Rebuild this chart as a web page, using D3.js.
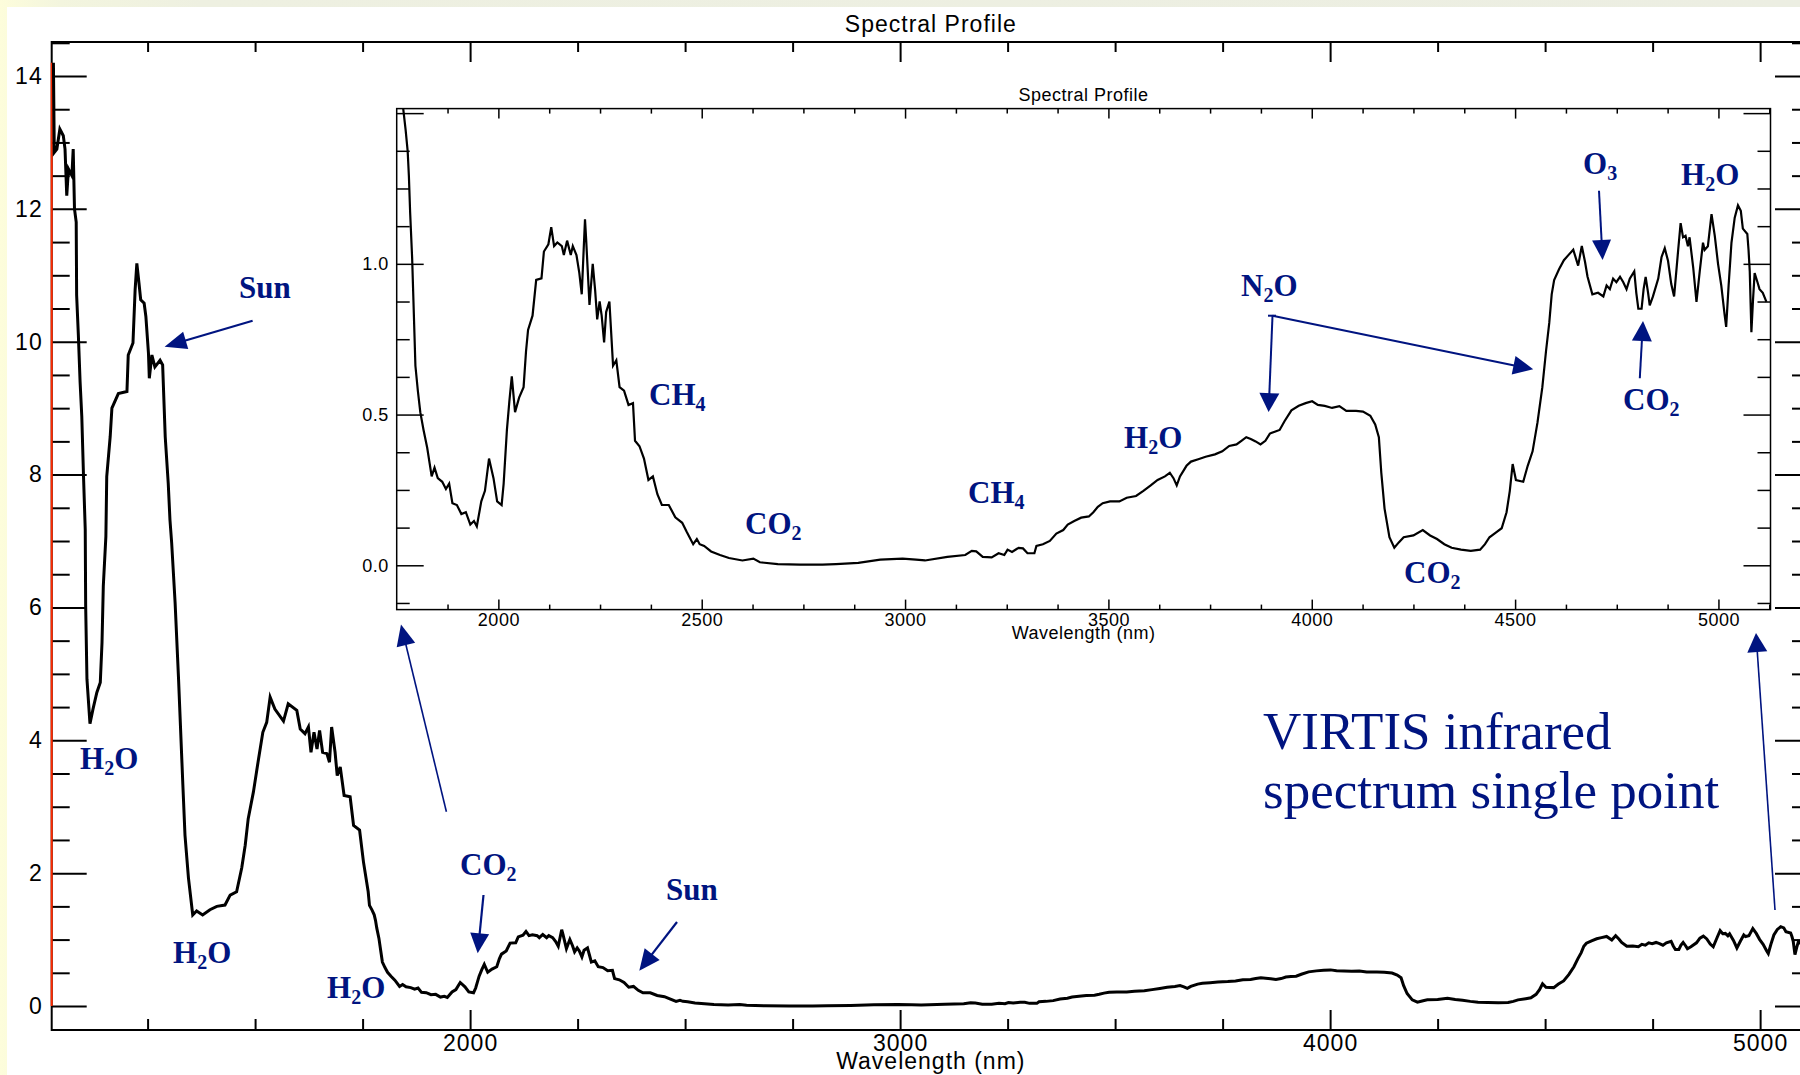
<!DOCTYPE html>
<html>
<head>
<meta charset="utf-8">
<script src="https://cdn.jsdelivr.net/npm/d3@7"></script>
<style>
  html, body { margin: 0; padding: 0; }
  body { width: 1800px; height: 1075px; overflow: hidden;
         background: linear-gradient(90deg, #fdfddb 0px, #f3f5de 60px, #eef0e1 200px, #eceee2 100%); }
  svg { display: block; }
</style>
</head>
<body>
<svg id="chart" width="1800" height="1075"></svg>
<script>
// ---------------- DATA ----------------
const wavelengthNm = [
  1031,1033,1039,1046,1054,1058,1062,1066,1074,1077,1080,1084,1085,1089,1093,1097,1101,1105,1106,1109,
  1116,1123,1132,1140,1144,1147,1153,1155,1163,1167,1182,1202,1205,1216,1221,1225,1230,1234,1242,1246,
  1252,1254,1260,1267,1273,1279,1285,1291,1298,1302,1306,1314,1322,1332,1337,1345,1355,1364,1378,1395,
  1411,1430,1442,1457,1469,1477,1484,1496,1508,1518,1527,1535,1546,1566,1577,1597,1605,1616,1624,1630,
  1637,1644,1650,1657,1667,1673,1678,1686,1691,1698,1707,1721,1729,1743,1752,1763,
  1766,1772,1777,1780,1783,1788,1792,1796,1802,1808,1816,1825,1836,1843,1851,1862,1871,1879,1887,1898,
  1909,1920,1931,1940,1947,1958,1967,1977,1988,1997,2008,2013,2021,2027,2033,2041,2051,2062,2068,2073,
  2084,2093,2106,2112,2123,2130,2137,2145,2156,2161,2169,2178,2183,2192,2199,2205,2213,2216,2224,2232,
  2238,2243,2249,2254,2260,2265,2273,2278,2282,2290,2298,2309,2320,2331,2336,2347,2358,2369,2380,2391,
  2402,2419,2435,2452,2463,2479,2488,2495,2506,2523,2545,2567,2600,2627,2643,2687,2742,2797,2830,2885,
  2939,2994,3027,3049,3104,3148,3164,3175,3191,3213,3230,3244,3252,3263,3279,3290,3301,3318,3323,3339,
  3356,3372,3389,3400,3416,3433,3452,3463,3474,3486,3504,3527,3545,3568,3586,3604,3621,3639,3651,3660,
  3668,3676,3692,3703,3721,3739,3762,3780,3797,3815,3827,3839,3850,3862,3874,3886,3897,3909,3921,3933,
  3950,3968,3985,4001,4015,4032,4050,4068,4085,4109,4126,4144,4156,4165,4171,4179,4191,4203,4214,4226,
  4250,4273,4291,4308,4326,4344,4367,4391,4414,4426,4437,4455,4467,4479,4487,4494,4502,4520,4531,4543,
  4555,4567,4576,4584,4590,4596,4608,4620,4631,4643,4655,4664,4672,4678,4690,4704,4717,4725,4733,4741,
  4749,4758,4766,4774,4782,4793,4798,4803,4811,4816,4821,4827,4831,4839,4852,4860,4868,4876,4884,4891,
  4901,4907,4913,4919,4925,4929,4938,4946,4954,4962,4966,4974,4983,4991,4999,5007,5015,5019,5025,5032,
  5040,5048,5055,5060,5071,5074,5077,5081,5085,5089,5096,5101,5109,5118
];
const radiance = [
  14.2,12.85,12.9,13.2,13.1,12.9,12.2,12.6,12.5,12.9,12.0,11.8,10.7,10.1,9.4,8.87,7.97,7.17,6.02,4.92,
  4.25,4.47,4.72,4.87,5.47,6.32,7.07,7.97,8.57,9.0,9.22,9.25,9.8,9.98,10.78,11.18,10.88,10.63,10.58,10.38,
  9.83,9.45,9.8,9.62,9.67,9.72,9.65,8.57,7.87,7.32,6.97,6.07,4.92,3.33,2.57,1.93,1.37,1.43,1.37,1.45,
  1.50,1.52,1.67,1.72,2.08,2.42,2.82,3.22,3.72,4.12,4.27,4.65,4.47,4.29,4.55,4.45,4.17,4.10,4.20,3.82,
  4.12,3.87,4.15,3.82,3.80,3.67,4.20,3.82,3.47,3.60,3.17,3.15,2.72,2.65,2.17,1.72,
  1.515,1.444,1.373,1.29,1.172,1.018,0.84,0.662,0.579,0.508,0.449,0.39,0.295,0.324,0.289,0.277,0.253,0.271,0.206,0.200,
  0.170,0.176,0.135,0.147,0.129,0.212,0.247,0.354,0.289,0.212,0.200,0.271,0.449,0.544,0.627,0.508,0.556,0.591,0.710,0.781,
  0.828,0.947,0.952,1.041,1.065,1.122,1.059,1.071,1.059,1.029,1.077,1.029,1.059,1.029,0.970,0.899,1.148,1.077,0.864,1.000,
  0.911,0.816,0.875,0.828,0.739,0.840,0.875,0.757,0.662,0.680,0.591,0.579,0.532,0.538,0.413,0.395,0.354,0.283,0.295,0.236,
  0.200,0.200,0.159,0.141,0.111,0.070,0.087,0.070,0.064,0.046,0.034,0.024,0.016,0.022,0.010,0.004,0.002,0.002,0.004,0.008,
  0.019,0.022,0.019,0.016,0.028,0.034,0.048,0.046,0.028,0.026,0.040,0.034,0.052,0.044,0.058,0.056,0.040,0.040,0.064,0.070,
  0.081,0.105,0.117,0.135,0.147,0.158,0.162,0.176,0.194,0.206,0.212,0.212,0.224,0.230,0.247,0.265,0.283,0.295,0.307,0.289,
  0.265,0.295,0.330,0.344,0.352,0.360,0.368,0.378,0.396,0.401,0.413,0.425,0.419,0.411,0.401,0.413,0.437,0.443,0.449,0.478,
  0.514,0.529,0.538,0.544,0.532,0.529,0.522,0.528,0.512,0.512,0.510,0.496,0.467,0.425,0.307,0.188,0.093,0.058,0.076,0.093,
  0.099,0.117,0.099,0.087,0.070,0.058,0.052,0.048,0.052,0.070,0.093,0.111,0.123,0.176,0.247,0.336,0.283,0.277,0.330,0.378,
  0.473,0.591,0.710,0.804,0.899,0.946,0.982,1.012,1.029,1.047,0.994,1.059,1.006,0.958,0.899,0.904,0.892,0.928,0.916,0.951,
  0.939,0.957,0.939,0.916,0.951,0.975,0.904,0.851,0.851,0.916,0.957,0.904,0.862,0.892,0.951,1.022,1.052,1.010,0.933,0.892,
  1.046,1.135,1.088,1.093,1.058,1.088,0.987,0.874,0.975,1.070,1.046,1.058,1.165,1.093,1.000,0.928,0.833,0.791,0.928,1.070,
  1.153,1.194,1.176,1.117,1.099,1.046,0.975,0.773,0.880,0.969,0.939,0.916,0.904,0.874
];
const redMarker = [14.2, 0];           // red segment drawn on the left axis
const mainXTicks = [2000, 3000, 4000, 5000];
const mainYTicks = [0, 2, 4, 6, 8, 10, 12, 14];
const insetXTicks = [2000, 2500, 3000, 3500, 4000, 4500, 5000];
const insetYTicks = [0, 0.5, 1.0, 1.5];
const insetYLabels = ["0.0", "0.5", "1.0"];
const titleText = "Spectral Profile";
const xTitleText = "Wavelength (nm)";

// ---------------- LAYOUT ----------------
const svg = d3.select("#chart");
const NAVY = "#001480";
const AXFONT = "'Liberation Sans', Arial, sans-serif";
const SERIF = "'Liberation Serif', 'Times New Roman', serif";

svg.append("rect").attr("x", 7).attr("y", 7).attr("width", 1793).attr("height", 1068).attr("fill", "#ffffff");

const M = { l: 51.7, r: 1810, t: 42, b: 1030 };
const xMain = d3.scaleLinear().domain([1027, 5116]).range([M.l, M.r]);
const yMain = d3.scaleLinear().domain([-0.361, 14.512]).range([M.b, M.t]);

const I = { l: 396.7, r: 1770.5, t: 108.6, b: 609.6 };
const xIn = d3.scaleLinear().domain([1750, 5128]).range([I.l, I.r]);
const yIn = d3.scaleLinear().domain([-0.147, 1.515]).range([I.b, I.t]);

const defs = svg.append("defs");
defs.append("clipPath").attr("id", "clipMain").append("rect")
  .attr("x", M.l).attr("y", M.t).attr("width", M.r - M.l).attr("height", M.b - M.t);
defs.append("clipPath").attr("id", "clipIn").append("rect")
  .attr("x", I.l).attr("y", I.t).attr("width", I.r - I.l).attr("height", I.b - I.t);

const spectrum = d3.zip(wavelengthNm, radiance);

function styleAxis(g, sw, fs, ls) {
  g.select(".domain").remove();
  g.selectAll(".tick line").attr("stroke", "#000").attr("stroke-width", sw);
  g.selectAll(".tick text").attr("fill", "#000").attr("font-family", AXFONT)
    .attr("font-size", fs).attr("letter-spacing", ls);
}

// ---------------- MAIN PLOT ----------------
const main = svg.append("g");
const mainMinorX = d3.range(1250, 5116, 250).filter(v => !mainXTicks.includes(v));
const mainMinorY = d3.range(0, 14.6, 0.5).filter(v => !mainYTicks.includes(v));

// bottom
main.append("g").attr("transform", `translate(0,${M.b})`)
  .call(d3.axisBottom(xMain).tickValues(mainXTicks).tickSize(-20).tickPadding(5).tickFormat(d3.format("d")))
  .call(g => styleAxis(g, 2, 23, 1));
main.append("g").attr("transform", `translate(0,${M.b})`)
  .call(d3.axisBottom(xMain).tickValues(mainMinorX).tickSize(-11).tickFormat(""))
  .call(g => styleAxis(g, 2, 23, 1));
// top
main.append("g").attr("transform", `translate(0,${M.t})`)
  .call(d3.axisTop(xMain).tickValues(mainXTicks).tickSize(-20).tickFormat(""))
  .call(g => styleAxis(g, 2, 23, 1));
main.append("g").attr("transform", `translate(0,${M.t})`)
  .call(d3.axisTop(xMain).tickValues(mainMinorX).tickSize(-10).tickFormat(""))
  .call(g => styleAxis(g, 2, 23, 1));
// left
main.append("g").attr("transform", `translate(${M.l},0)`)
  .call(d3.axisLeft(yMain).tickValues(mainYTicks).tickSize(-35).tickPadding(9).tickFormat(d3.format("d")))
  .call(g => styleAxis(g, 2, 23, 1));
main.append("g").attr("transform", `translate(${M.l},0)`)
  .call(d3.axisLeft(yMain).tickValues(mainMinorY).tickSize(-18).tickFormat(""))
  .call(g => styleAxis(g, 2, 23, 1));
// right
main.append("g").attr("transform", `translate(${M.r},0)`)
  .call(d3.axisRight(yMain).tickValues(mainYTicks).tickSize(-35).tickFormat(""))
  .call(g => styleAxis(g, 2, 23, 1));
main.append("g").attr("transform", `translate(${M.r},0)`)
  .call(d3.axisRight(yMain).tickValues(mainMinorY).tickSize(-18).tickFormat(""))
  .call(g => styleAxis(g, 2, 23, 1));

main.append("rect").attr("x", M.l).attr("y", M.t).attr("width", M.r - M.l).attr("height", M.b - M.t)
  .attr("fill", "none").attr("stroke", "#000").attr("stroke-width", 2);

main.append("line")
  .attr("x1", xMain(xMain.domain()[0])).attr("x2", xMain(xMain.domain()[0]))
  .attr("y1", yMain(redMarker[0])).attr("y2", yMain(redMarker[1]))
  .attr("stroke", "#ff2a00").attr("stroke-width", 2);

main.append("path").datum(spectrum).attr("clip-path", "url(#clipMain)")
  .attr("fill", "none").attr("stroke", "#000").attr("stroke-width", 3).attr("stroke-linejoin", "miter")
  .attr("d", d3.line().x(d => xMain(d[0])).y(d => yMain(d[1])));

main.append("text").attr("x", (M.l + M.r) / 2).attr("y", 32).attr("text-anchor", "middle")
  .attr("font-family", AXFONT).attr("font-size", 23).attr("letter-spacing", 1).text(titleText);
main.append("text").attr("x", (M.l + M.r) / 2).attr("y", 1069).attr("text-anchor", "middle")
  .attr("font-family", AXFONT).attr("font-size", 23).attr("letter-spacing", 1).text(xTitleText);

// ---------------- INSET PLOT ----------------
const inset = svg.append("g");
inset.append("rect").attr("x", I.l).attr("y", I.t).attr("width", I.r - I.l).attr("height", I.b - I.t).attr("fill", "#fff");
const inMinorX = d3.range(1875, 5128, 125).filter(v => !insetXTicks.includes(v));
const inMinorY = d3.range(-0.125, 1.51, 0.125).filter(v => !insetYTicks.some(t => Math.abs(t - v) < 1e-6));

inset.append("g").attr("transform", `translate(0,${I.b})`)
  .call(d3.axisBottom(xIn).tickValues(insetXTicks).tickSize(-10).tickPadding(4).tickFormat(d3.format("d")))
  .call(g => styleAxis(g, 1.5, 18, 0.5));
inset.append("g").attr("transform", `translate(0,${I.b})`)
  .call(d3.axisBottom(xIn).tickValues(inMinorX).tickSize(-5).tickFormat(""))
  .call(g => styleAxis(g, 1.5, 18, 0.5));
inset.append("g").attr("transform", `translate(0,${I.t})`)
  .call(d3.axisTop(xIn).tickValues(insetXTicks).tickSize(-10).tickFormat(""))
  .call(g => styleAxis(g, 1.5, 18, 0.5));
inset.append("g").attr("transform", `translate(0,${I.t})`)
  .call(d3.axisTop(xIn).tickValues(inMinorX).tickSize(-5).tickFormat(""))
  .call(g => styleAxis(g, 1.5, 18, 0.5));
inset.append("g").attr("transform", `translate(${I.l},0)`)
  .call(d3.axisLeft(yIn).tickValues(insetYTicks).tickSize(-27).tickPadding(8)
    .tickFormat((d, i) => insetYLabels[i] || ""))
  .call(g => styleAxis(g, 1.5, 18, 0.5));
inset.append("g").attr("transform", `translate(${I.l},0)`)
  .call(d3.axisLeft(yIn).tickValues(inMinorY).tickSize(-13).tickFormat(""))
  .call(g => styleAxis(g, 1.5, 18, 0.5));
inset.append("g").attr("transform", `translate(${I.r},0)`)
  .call(d3.axisRight(yIn).tickValues(insetYTicks).tickSize(-27).tickFormat(""))
  .call(g => styleAxis(g, 1.5, 18, 0.5));
inset.append("g").attr("transform", `translate(${I.r},0)`)
  .call(d3.axisRight(yIn).tickValues(inMinorY).tickSize(-13).tickFormat(""))
  .call(g => styleAxis(g, 1.5, 18, 0.5));

inset.append("rect").attr("x", I.l).attr("y", I.t).attr("width", I.r - I.l).attr("height", I.b - I.t)
  .attr("fill", "none").attr("stroke", "#000").attr("stroke-width", 1.5);

inset.append("path").datum(spectrum).attr("clip-path", "url(#clipIn)")
  .attr("fill", "none").attr("stroke", "#000").attr("stroke-width", 2.2)
  .attr("d", d3.line().x(d => xIn(d[0])).y(d => yIn(d[1])));

inset.append("text").attr("x", (I.l + I.r) / 2).attr("y", 101).attr("text-anchor", "middle")
  .attr("font-family", AXFONT).attr("font-size", 18).attr("letter-spacing", 0.5).text(titleText);
inset.append("text").attr("x", (I.l + I.r) / 2).attr("y", 639).attr("text-anchor", "middle")
  .attr("font-family", AXFONT).attr("font-size", 18).attr("letter-spacing", 0.5).text(xTitleText);

// ---------------- ANNOTATIONS ----------------
const ann = svg.append("g");
const labels = [
  ["Sun", 239, 298], ["H_2O", 80, 769], ["H_2O", 173, 963], ["H_2O", 327, 998],
  ["CO_2", 460, 875], ["Sun", 666, 900],
  ["CH_4", 649, 405], ["CO_2", 745, 534], ["CH_4", 968, 503], ["H_2O", 1124, 448],
  ["N_2O", 1241, 296], ["CO_2", 1404, 583], ["O_3", 1583, 174], ["H_2O", 1681, 185], ["CO_2", 1623, 410]
];
labels.forEach(([t, x, y]) => {
  const txt = ann.append("text").attr("x", x).attr("y", y).attr("fill", NAVY)
    .attr("font-family", SERIF).attr("font-weight", "bold").attr("font-size", 31);
  const parts = t.split(/(_\d)/).filter(s => s.length);
  let shifted = false;
  parts.forEach(p => {
    if (p[0] === "_") {
      txt.append("tspan").attr("font-size", 20).attr("dy", 6).text(p.slice(1));
      shifted = true;
    } else {
      txt.append("tspan").attr("dy", shifted ? -6 : 0).text(p);
      shifted = false;
    }
  });
});

function arrow(x1, y1, x2, y2, hl, hw, sw) {
  const dx = x2 - x1, dy = y2 - y1, L = Math.hypot(dx, dy), ux = dx / L, uy = dy / L;
  const bx = x2 - ux * hl, by = y2 - uy * hl;
  ann.append("line").attr("x1", x1).attr("y1", y1).attr("x2", bx + ux * 2).attr("y2", by + uy * 2)
    .attr("stroke", NAVY).attr("stroke-width", sw);
  ann.append("polygon").attr("fill", NAVY)
    .attr("points", [[x2, y2], [bx - uy * hw / 2, by + ux * hw / 2], [bx + uy * hw / 2, by - ux * hw / 2]].map(p => p.join(",")).join(" "));
}
arrow(252.6, 320.7, 164.6, 346.7, 22, 18, 2.2);   // Sun (main)
arrow(483.5, 895, 477.7, 953.3, 20, 19, 2.2);     // CO2 (main)
arrow(677, 922, 639.3, 970.7, 21, 19, 2.2);       // Sun (main, right)
arrow(446.4, 811.7, 401, 624.5, 21, 19, 1.6);     // to inset left
arrow(1775, 910, 1756, 633, 19, 20, 1.6);         // to inset right
arrow(1599, 190.7, 1602.6, 260, 20, 19, 2);       // O3
arrow(1272.5, 315.7, 1268.6, 412.1, 19, 20, 2);   // N2O down
ann.append("line").attr("x1", 1268).attr("y1", 315.7).attr("x2", 1276).attr("y2", 315.7).attr("stroke", NAVY).attr("stroke-width", 2);
arrow(1272.5, 315.7, 1533.2, 369.3, 20, 19, 2);   // N2O right
arrow(1639.8, 378.2, 1643, 321, 20, 20, 2);       // CO2 (inset right)

ann.append("text").attr("x", 1263).attr("y", 749).attr("fill", NAVY)
  .attr("font-family", SERIF).attr("font-size", 53).text("VIRTIS infrared");
ann.append("text").attr("x", 1263).attr("y", 808).attr("fill", NAVY)
  .attr("font-family", SERIF).attr("font-size", 53).text("spectrum single point");
</script>
</body>
</html>
